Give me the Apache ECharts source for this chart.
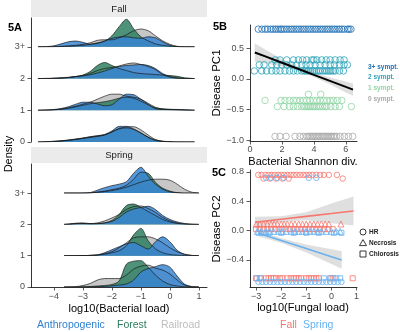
<!DOCTYPE html>
<html><head><meta charset="utf-8">
<script src="https://cdn.jsdelivr.net/npm/echarts@6/dist/echarts.min.js"></script>
<style>html,body{margin:0;padding:0;background:#fff}#c{width:400px;height:332px}</style>
</head><body><div id="c"></div>
<script>
// ---------- Panel A data (ridgelines) ----------
const ROW_LABELS = ['0', '1', '2', '3+'];
const GROUPS = ['Anthropogenic', 'Forest', 'Railroad'];
const A_TICKS = [-4, -3, -2, -1, 0, 1];
const FALL_X = [-4.55,-4.25,-4,-3.75,-3.5,-3.25,-3,-2.75,-2.5,-2.25,-2,-1.75,-1.5,-1.25,-1,-0.75,-0.5,-0.25,0,0.25,0.5,0.85];
const SPRING_X = [-3.65,-3.5,-3.25,-3,-2.75,-2.5,-2.25,-2,-1.75,-1.5,-1.25,-1,-0.75,-0.5,-0.25,0,0.25,0.5,0.75,1.0];
// density heights, rows 0,1,2,3+
const FALL_ANTHRO = [
  [0,0.3,0.8,1.3,2,3,4,5.3,6.3,7.5,11,15.5,15.5,13,9,4.5,1.5,0.5,0.2,0,0,0],
  [0,0.3,0.8,1.8,3.5,6,8,8,6.3,4.5,5.5,11,16,15.5,11,6,1.5,0.8,0.6,0.4,0.2,0],
  [0,0.2,0.4,0.8,1.3,2,2.8,3.8,5.5,7.5,10,12,13,13.5,14,13,10,5,2,0.6,0.2,0],
  [0,0.3,1,3,5,5.8,4.5,2.7,3.5,6,8.5,9.8,10,9,8.5,10,9,5,1.5,0.3,0,0]
];
const FALL_FOREST = [
  [0,0.2,0.5,1,1.7,2.5,3.5,4.5,5.5,7,10,13,14,12.5,9,5,2,0.7,0.2,0,0,0],
  [0,0.2,0.5,1,2,3.5,5,6.5,7.5,8.5,10,12,13,12,9,5.5,2.5,1.5,1,0.8,0.5,0],
  [0,0,0.2,0.5,1,2,3.5,7,13,16,13,10,8,6,5,4.5,4,3.5,3,2.2,0.8,0],
  [0,0,0,0.3,0.5,1,1.5,2.5,4,5.5,11,20,27.4,18,10,6,3,1.5,0.6,0.2,0,0]
];
const FALL_RAIL = [
  [0,0.2,0.5,1,1.7,2.7,3.7,5,6,7,10,13.5,15,15.2,12,7,2.5,0.8,0.3,0,0,0],
  [0,0.2,0.5,1.2,2.5,4,6,8,11,14,16,16,14,13,11,7,3,1.2,0.8,0.6,0.4,0],
  [0,0,0.2,0.5,1,2,3,5,8,10,11,12.5,14.5,15.5,14,12,9,4,1.5,0.4,0,0],
  [0,0,0.2,0.5,1,1.5,2.5,4,6.5,7,7,9,12,16,17.7,16,11,6,2.5,0.5,0,0]
];
const SPRING_ANTHRO = [
  [0,0,0,0,0.1,0.3,0.6,1.2,2,3,7,15,18.5,20.5,22.5,20,11,3,0.5,0],
  [0,0,0,0.1,0.3,0.8,3,6,9,12,13.3,10,6.7,14,19,14,5.5,1.5,0.3,0],
  [0,0.3,1.2,1.5,0.8,0.8,1.5,3,7,12.5,15.5,17,18.3,15,9,5,2.5,1,0.3,0],
  [0,0,0,0.1,0.5,3,5.5,7.5,9,11.5,20,26,17,9,4,1.2,0.3,0,0,0]
];
const SPRING_FOREST = [
  [0,0,0,0.2,0.5,1,1.5,2.5,6,23,26,26.5,20,12,6,2.5,1,0.3,0,0],
  [0,0,0,0.1,0.3,0.7,1.5,3,5,10,21,27.5,15,7,3,1.2,0.5,0.2,0,0],
  [0,0.2,0.8,1,0.6,0.8,1.5,4,10,19,20.5,17,13,9,5,2.5,1,0.3,0,0],
  [0,0,0,0,0.2,1,2,3.5,5,8,14,21,20,11,5,2,0.5,0,0,0]
];
const SPRING_RAIL = [
  [0,0,0.3,1.5,3.5,7,8.5,8.5,8.5,12,18,21,22,19,17,13,7,2,0.3,0],
  [0,0,0,0.1,0.3,0.8,2,4,8,13,18,19,19,17,13,8,4,1.5,0.3,0],
  [0,0.2,0.6,0.8,0.8,1.5,3.5,6.5,10,15,18,18.5,16,12,7,3.5,1.5,0.5,0,0],
  [0,0,0,0,0.2,0.8,1.5,2.5,4,6,8.5,11,13,14,14,13,9,4,1,0]
];

// ---------- Panel B data ----------
const B_XTICKS = [0, 2, 4, 6];
const B_YTICKS = [-1, -0.5, 0, 0.5];
const B_SYMPT = ['3+ sympt.', '2 sympt.', '1 sympt.', '0 sympt.'];
const B_S3 = [[0.81, [0.52,0.75,0.95,1.1,1.3,1.45,1.6,1.75,1.9,2.0,2.15,2.3,2.45,2.6,2.75,2.9,3.05,3.2,3.35,3.5,3.65,3.8,3.95,4.1,4.25,4.4,4.55,4.7,4.85,5.0,5.15,5.3,5.45,5.6,5.75,5.9,6.1,6.2,6.32]]];
const B_S2 = [
  [0.31, [1.57,1.88,2.3,2.72,3.03,3.3,3.55,3.87,4.0,4.18,4.49,4.77,5.02,5.33,5.64,5.89]],
  [0.23, [0.58,0.88,1.36,1.67,1.99,2.3,2.61,2.92,3.24,3.51,3.76,4.08,4.39,4.7,5.02,5.29,5.6,5.89,6.1]],
  [0.13, [0.27,0.73,1.04,1.36,1.63,1.88,2.19,2.47,2.72,2.97,3.24,3.4,3.51,3.65,3.76,3.9,4.01,4.15,4.28,4.4,4.55,4.7,4.81,4.95,5.06,5.2,5.33,5.6,5.85]]
];
const B_S1 = [
  [-0.25, [3.66,4.43]],
  [-0.35, [0.94,1.94,2.19,2.47,2.72,2.92,3.13,3.34,3.55,3.76,3.97,4.18,4.39,4.6,4.81,5.02,5.22,5.47,5.75]],
  [-0.45, [1.71,2.13,2.47,2.72,2.97,3.24,3.4,3.51,3.65,3.76,3.9,4.01,4.15,4.28,4.4,4.55,4.7,4.81,5.06,5.33,5.6,6.35]]
];
const B_S0 = [[-0.935, [1.57,1.88,2.26,2.82,3.13,3.34,3.55,3.65,3.76,3.87,3.97,4.08,4.18,4.28,4.39,4.5,4.6,4.7,4.81,4.9,5.02,5.1,5.22,5.3,5.43,5.64,5.91,6.16,6.43]]];
const B_FIT_X = [0.3, 1, 2, 3, 4, 5, 6, 6.45];
const B_FIT = [0.431, 0.363, 0.264, 0.166, 0.067, -0.031, -0.13, -0.174];
const B_LO = [0.281, 0.253, 0.204, 0.131, 0.032, -0.086, -0.22, -0.274];
const B_HI = [0.581, 0.473, 0.324, 0.201, 0.102, 0.024, -0.04, -0.074];

// ---------- Panel C data ----------
const C_XTICKS = [-3, -2, -1, 0, 1];
const C_YTICKS = [-0.4, 0, 0.4, 0.8];
const SEASONS = ['Fall', 'Spring'];
const SHAPES = ['HR', 'Necrosis', 'Chlorosis'];
const C_FALL_HR = [
  [0.76, [-2.91,-2.78,-2.62,-2.5,-2.38,-2.25,-2.12,-2.0,-1.88,-1.75,-1.62,-1.5,-1.38,-1.25,-1.12,-1.0,-0.88,-0.75,-0.6,-0.45,-0.3,-0.1,0.22]],
  [0.71, [-2.7,-2.45,-2.2,-1.95,-1.7,0.45]]
];
const C_FALL_NEC = [[0.09, [-2.99,-2.85,-2.7,-2.55,-2.4,-2.28,-2.15,-2.0,-1.88,-1.75,-1.6,-1.45,-1.3,-1.15,-1.0,-0.85,-0.7,-0.55,-0.4,-0.25,-0.1,0.38]]];
const C_FALL_CHL = [
  [0.02, [-3.0,-2.85,-2.7,-2.55,-2.4,-2.25,-2.1,-1.95,-1.8,-1.65,-1.5,-1.35,-1.2,-1.05,-0.9,-0.75,-0.6,-0.45,-0.3,-0.15,0.05]],
  [-0.65, [-2.97,-2.85,-2.6,-2.5,-2.4,-2.3,-2.2,-2.05,-1.95,-1.75,-1.62,-1.5,-1.4,-1.3,-1.2,-1.0,-0.9,-0.8,-0.7,-0.6,-0.5,-0.05,0.08,0.85]]
];
const C_SPRING_HR = [
  [0.72, [-2.6,-2.4,-2.15,-1.9,-0.9,-0.6]],
  [-0.70, [-2.9,-2.75,-2.6,-2.45,-2.3,-2.15,-2.0,-1.85,-1.7,-1.55,-1.4,-1.25,-1.1,-0.95,-0.8,-0.65,-0.5,-0.35,-0.2,-0.05,0.1,0.25,0.4]]
];
const C_SPRING_NEC = [[-0.01, [-2.95,-2.8,-2.6,-2.45,-2.3,-2.1,-1.95,-1.8,-1.6,-1.45,-1.3,-1.15,-1.0,-0.85,-0.7,-0.55,-0.4,-0.2,0.0,0.2,0.35]]];
const C_SPRING_CHL = [
  [-0.03, [-2.9,-2.7,-2.5,-2.0,-1.5,-1.0,-0.5,0.1,0.4]],
  [-0.65, [-3.0,-2.8,-0.3,0.0,0.2,0.35]]
];
const C_FALL_FIT_X = [-3.04, -2, -1, 0, 0.88];
const C_FALL_FIT = [0.114, 0.155, 0.194, 0.233, 0.268];
const C_FALL_LO = [0.03, 0.115, 0.14, 0.1, 0.07];
const C_FALL_HI = [0.19, 0.195, 0.25, 0.37, 0.465];
const C_SPR_FIT_X = [-2.9, -2, -1, 0, 0.41];
const C_SPR_FIT = [-0.036, -0.135, -0.245, -0.355, -0.40];
const C_SPR_LO = [-0.08, -0.165, -0.3, -0.455, -0.52];
const C_SPR_HI = [0.01, -0.105, -0.19, -0.255, -0.28];

// ---------- styling / layout ----------
const FONT = '"Liberation Sans", Arial, sans-serif';
const FILL = { Anthropogenic: '#3a86d4', Forest: '#2f7f61', Railroad: '#bdbdbd' };
const TXT = { Anthropogenic: '#2f80d0', Forest: '#2e7d5e', Railroad: '#bdbdbd' };
const SYMPT_COL = ['#2171b5', '#2aa3b8', '#8fd4a4', '#a9a9a9'];
const SEASON_COL = { Fall: '#f8766d', Spring: '#66b2f2' };
const DENSITY_UNIT = 31.5;
const A_XMIN = -4.79, A_XMAX = 1.28;
const FACETS = [ // frame layout of the two ridge facets
  { top: 18, bottom: 142, ymax: 3.91 },
  { top: 164, bottom: 287, ymax: 3.93 }
];
const fmtInt = v => (v < 0 ? '\u2212' : '') + Math.abs(v);
const fmt1 = v => (v < 0 ? '\u2212' : '') + Math.abs(v).toFixed(1);

const axLine = { show: true, onZero: false, lineStyle: { color: '#000', width: 0.8 } };
const tick = vals => ({ show: true, customValues: vals, length: 3.5, lineStyle: { color: '#333', width: 0.8 } });
const lab = (vals, f, m) => ({ show: true, customValues: vals, formatter: f, fontSize: 9, color: '#4d4d4d', fontFamily: FONT, margin: m });
const noSplit = { show: false };

const grids = [
  { left: 31, top: FACETS[0].top, width: 176, height: FACETS[0].bottom - FACETS[0].top },
  { left: 31, top: FACETS[1].top, width: 176, height: FACETS[1].bottom - FACETS[1].top },
  { left: 250, top: 25, width: 107, height: 116 },
  { left: 250, top: 170, width: 107, height: 117 }
];
const xAxes = [
  { type: 'value', gridIndex: 0, min: A_XMIN, max: A_XMAX, show: false },
  { type: 'value', gridIndex: 1, min: A_XMIN, max: A_XMAX, axisLine: axLine, axisTick: tick(A_TICKS), axisLabel: lab(A_TICKS, fmtInt, 5), splitLine: noSplit },
  { type: 'value', gridIndex: 2, min: 0, max: 6.7, axisLine: axLine, axisTick: tick(B_XTICKS), axisLabel: lab(B_XTICKS, fmtInt, 4), splitLine: noSplit },
  { type: 'value', gridIndex: 3, min: -3.24, max: 1.02, axisLine: axLine, axisTick: tick(C_XTICKS), axisLabel: lab(C_XTICKS, fmtInt, 5), splitLine: noSplit }
];
const yAxes = [
  { type: 'value', gridIndex: 0, min: 0, max: FACETS[0].ymax, axisLine: axLine, axisTick: tick([0,1,2,3]), axisLabel: lab([0,1,2,3], v => ROW_LABELS[v], 6), splitLine: noSplit },
  { type: 'value', gridIndex: 1, min: 0, max: FACETS[1].ymax, axisLine: axLine, axisTick: tick([0,1,2,3]), axisLabel: lab([0,1,2,3], v => ROW_LABELS[v], 6), splitLine: noSplit },
  { type: 'value', gridIndex: 2, min: -1.01, max: 0.878, axisLine: axLine, axisTick: tick(B_YTICKS), axisLabel: lab(B_YTICKS, fmt1, 6), splitLine: noSplit },
  { type: 'value', gridIndex: 3, min: -0.769, max: 0.827, axisLine: axLine, axisTick: tick(C_YTICKS), axisLabel: lab(C_YTICKS, fmt1, 6), splitLine: noSplit }
];
const series = [];

// one hidden grid per ridge row so each ridge fills down to its own baseline
function addRidges(fi, xs, dens) {
  const f = FACETS[fi];
  const pxPerRow = (f.bottom - f.top) / f.ymax;
  const order = ['Railroad', 'Forest', 'Anthropogenic'];
  for (let r = 3; r >= 0; r--) {
    const base = f.bottom - r * pxPerRow;
    const gi = grids.length;
    grids.push({ left: 31, top: f.top, width: 176, height: base - f.top });
    xAxes.push({ type: 'value', gridIndex: gi, min: A_XMIN, max: A_XMAX, show: false });
    yAxes.push({ type: 'value', gridIndex: gi, min: 0, max: (base - f.top) / pxPerRow, show: false });
    order.forEach(g => {
      series.push({ type: 'line', xAxisIndex: gi, yAxisIndex: gi,
        data: xs.map((x, i) => [x, dens[g][r][i] / DENSITY_UNIT]),
        symbol: 'none', smooth: 0.3, lineStyle: { color: '#1a1a1a', width: 0.7 },
        areaStyle: { color: FILL[g], opacity: 0.85 }, silent: true });
    });
  }
}
addRidges(0, FALL_X, { Anthropogenic: FALL_ANTHRO, Forest: FALL_FOREST, Railroad: FALL_RAIL });
addRidges(1, SPRING_X, { Anthropogenic: SPRING_ANTHRO, Forest: SPRING_FOREST, Railroad: SPRING_RAIL });

function pts(rows) { const p = []; rows.forEach(([y, xs]) => xs.forEach(x => p.push([x, y]))); return p; }
function scatter(gi, rows, color, symbol, size) {
  series.push({ type: 'scatter', xAxisIndex: gi, yAxisIndex: gi, data: pts(rows), symbol, symbolSize: size,
    itemStyle: { color: 'rgba(0,0,0,0)', borderColor: color, borderWidth: 1 }, silent: true });
}
function band(gi, xs, lo, hi) {
  series.push({ type: 'custom', xAxisIndex: gi, yAxisIndex: gi, data: [[xs[0], lo[0]]], silent: true,
    renderItem: (params, api) => {
      const p = [];
      xs.forEach((x, i) => p.push(api.coord([x, hi[i]])));
      for (let i = xs.length - 1; i >= 0; i--) p.push(api.coord([xs[i], lo[i]]));
      return { type: 'polygon', shape: { points: p }, style: { fill: 'rgba(150,150,150,0.3)' } };
    } });
}
function fitLine(gi, xs, ys, color, w) {
  series.push({ type: 'line', xAxisIndex: gi, yAxisIndex: gi, data: xs.map((x, i) => [x, ys[i]]),
    symbol: 'none', lineStyle: { color, width: w }, silent: true });
}
// Panel B
scatter(2, B_S3, SYMPT_COL[0], 'circle', 6.5);
scatter(2, B_S2, SYMPT_COL[1], 'circle', 6.5);
scatter(2, B_S1, SYMPT_COL[2], 'circle', 6.5);
scatter(2, B_S0, SYMPT_COL[3], 'circle', 6.5);
band(2, B_FIT_X, B_LO, B_HI);
fitLine(2, B_FIT_X, B_FIT, '#000', 2);
// Panel C
scatter(3, C_FALL_HR, SEASON_COL.Fall, 'circle', 5.5);
scatter(3, C_FALL_NEC, SEASON_COL.Fall, 'triangle', 6);
scatter(3, C_FALL_CHL, SEASON_COL.Fall, 'rect', 5);
scatter(3, C_SPRING_HR, SEASON_COL.Spring, 'circle', 5.5);
scatter(3, C_SPRING_NEC, SEASON_COL.Spring, 'triangle', 6);
scatter(3, C_SPRING_CHL, SEASON_COL.Spring, 'rect', 5);
band(3, C_FALL_FIT_X, C_FALL_LO, C_FALL_HI);
band(3, C_SPR_FIT_X, C_SPR_LO, C_SPR_HI);
fitLine(3, C_FALL_FIT_X, C_FALL_FIT, SEASON_COL.Fall, 1.6);
fitLine(3, C_SPR_FIT_X, C_SPR_FIT, SEASON_COL.Spring, 1.6);

const G = [];
function txt(x, y, text, opts) {
  opts = opts || {};
  G.push({ type: 'text', x, y, rotation: opts.rot || 0, silent: true, z: 10,
    style: { text, fill: opts.color || '#000', font: (opts.bold ? 'bold ' : '') + (opts.size || 11) + 'px ' + FONT,
      textAlign: opts.align || 'center', textVerticalAlign: 'middle', align: opts.align || 'center', verticalAlign: 'middle' } });
}
G.push({ type: 'rect', shape: { x: 31, y: 0, width: 176, height: 17 }, style: { fill: '#ebebeb' }, silent: true });
G.push({ type: 'rect', shape: { x: 31, y: 147, width: 176, height: 16 }, style: { fill: '#ebebeb' }, silent: true });
txt(119, 9, SEASONS[0], { size: 9.5, color: '#1a1a1a' });
txt(119, 155, SEASONS[1], { size: 9.5, color: '#1a1a1a' });
txt(8, 28, '5A', { bold: true, size: 11, align: 'left' });
txt(9, 154, 'Density', { size: 11, rot: Math.PI / 2 });
txt(119, 309, 'log10(Bacterial load)', { size: 11 });
txt(37, 325, GROUPS[0], { size: 10.5, color: TXT.Anthropogenic, align: 'left' });
txt(117, 325, GROUPS[1], { size: 10.5, color: TXT.Forest, align: 'left' });
txt(161, 325, GROUPS[2], { size: 10.5, color: TXT.Railroad, align: 'left' });
txt(213, 27, '5B', { bold: true, size: 11, align: 'left' });
txt(217, 83, 'Disease PC1', { size: 11.5, rot: Math.PI / 2 });
txt(303, 162, 'Bacterial Shannon div.', { size: 11 });
B_SYMPT.forEach((s, i) => txt(368, 67 + i * 10.6, s, { size: 6.5, bold: true, color: SYMPT_COL[i], align: 'left' }));
txt(212, 173, '5C', { bold: true, size: 11, align: 'left' });
txt(217, 229, 'Disease PC2', { size: 11.5, rot: Math.PI / 2 });
txt(303, 308, 'log10(Fungal load)', { size: 11 });
txt(280, 325, SEASONS[0], { size: 10.5, color: SEASON_COL.Fall, align: 'left' });
txt(303, 325, SEASONS[1], { size: 10.5, color: SEASON_COL.Spring, align: 'left' });
const LY = [232, 243, 254];
G.push({ type: 'circle', shape: { cx: 363, cy: LY[0], r: 3 }, style: { fill: 'none', stroke: '#222', lineWidth: 0.9 }, silent: true });
G.push({ type: 'polygon', shape: { points: [[363, LY[1] - 3.4], [366.5, LY[1] + 2.6], [359.5, LY[1] + 2.6]] }, style: { fill: 'none', stroke: '#222', lineWidth: 0.9 }, silent: true });
G.push({ type: 'rect', shape: { x: 360, y: LY[2] - 3, width: 6, height: 6 }, style: { fill: 'none', stroke: '#222', lineWidth: 0.9 }, silent: true });
SHAPES.forEach((s, i) => txt(369, LY[i], s, { size: 6.5, bold: true, color: '#222', align: 'left' }));

const chart = echarts.init(document.getElementById('c'));
chart.setOption({ animation: false, grid: grids, xAxis: xAxes, yAxis: yAxes, series, graphic: { elements: G } });
</script>
</body></html>
